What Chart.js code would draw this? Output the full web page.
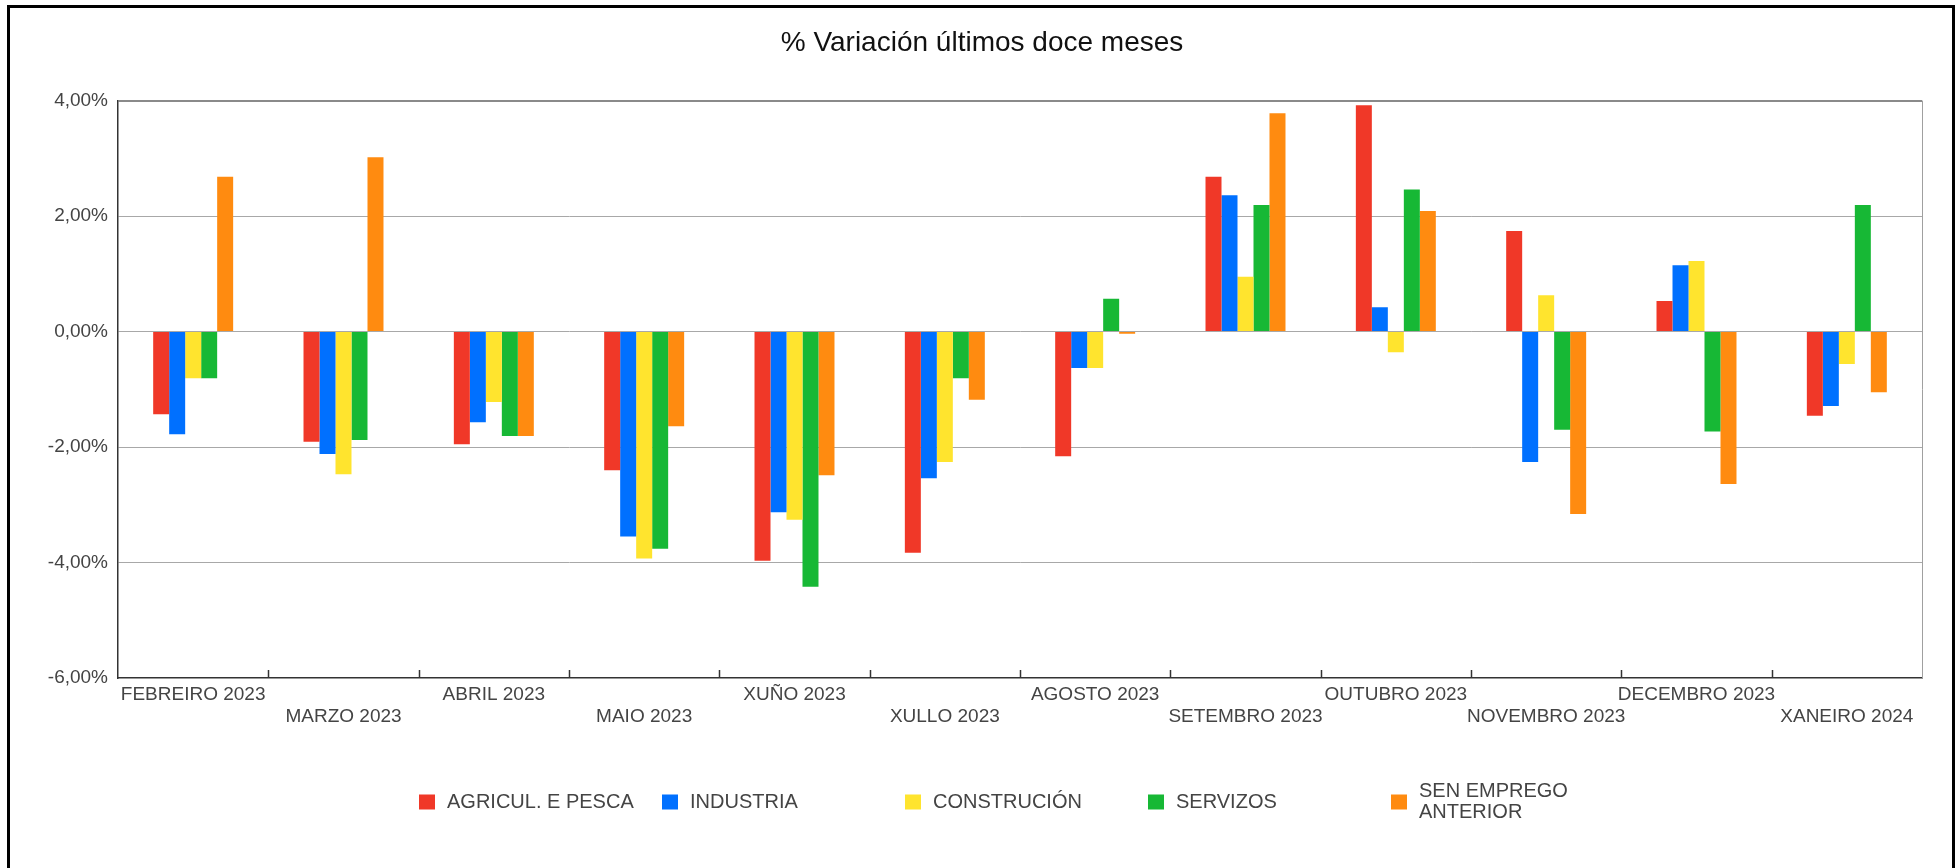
<!DOCTYPE html>
<html>
<head>
<meta charset="utf-8">
<script src="https://cdn.jsdelivr.net/npm/chart.js@4.4.1/dist/chart.umd.min.js"></script>
<style>
  html, body { margin: 0; padding: 0; background: #fff; overflow: hidden; }
  #wrap { position: relative; width: 1958px; height: 868px; }
  canvas { display: block; }
</style>
</head>
<body>
<div id="wrap"><canvas id="c" width="1958" height="868"></canvas></div>
<script>
const categories = ['FEBREIRO 2023','MARZO 2023','ABRIL 2023','MAIO 2023','XUÑO 2023','XULLO 2023','AGOSTO 2023','SETEMBRO 2023','OUTUBRO 2023','NOVEMBRO 2023','DECEMBRO 2023','XANEIRO 2024'];
const agriculEPesca = [-1.43,-1.91,-1.95,-2.40,-3.97,-3.83,-2.16,2.68,3.92,1.74,0.53,-1.46];
const industria     = [-1.78,-2.12,-1.57,-3.55,-3.13,-2.54,-0.63,2.36,0.42,-2.26,1.15,-1.29];
const construcion   = [-0.81,-2.47,-1.22,-3.93,-3.26,-2.26,-0.63,0.95,-0.36,0.63,1.22,-0.56];
const servizos      = [-0.81,-1.88,-1.81,-3.76,-4.42,-0.81,0.57,2.19,2.46,-1.70,-1.73,2.19];
const senEmprego    = [2.68,3.02,-1.81,-1.64,-2.49,-1.18,-0.04,3.78,2.09,-3.16,-2.64,-1.05];
const seriesNames   = ['AGRICUL. E PESCA','INDUSTRIA','CONSTRUCIÓN','SERVIZOS','SEN EMPREGO ANTERIOR'];
const legendLines   = [['AGRICUL. E PESCA'],['INDUSTRIA'],['CONSTRUCIÓN'],['SERVIZOS'],['SEN EMPREGO','ANTERIOR']];
const seriesColors  = ['#F03828','#0070FF','#FFE42E','#17B835','#FF8B10'];
const yTickValues   = [-6,-4,-2,0,2,4];
const titleText     = '% Variación últimos doce meses';

const FONT = "'Liberation Sans', Arial, sans-serif";
const TEXT = '#444444';

const framePlugin = {
  id: 'frame',
  beforeDraw(chart) {
    const ctx = chart.ctx;
    ctx.save();
    ctx.fillStyle = '#fff';
    ctx.fillRect(0, 0, chart.width, chart.height);
    ctx.strokeStyle = '#000';
    ctx.lineWidth = 3;
    ctx.strokeRect(8.5, 6.5, chart.width - 13, chart.height + 40);
    ctx.restore();
  },
  afterDatasetsDraw(chart) {
    const ctx = chart.ctx;
    const xs = chart.scales.x;
    const a = chart.chartArea;
    ctx.save();
    ctx.strokeStyle = '#a0a0a0';
    ctx.lineWidth = 1;
    ctx.beginPath();
    ctx.moveTo(Math.round(a.right) + 0.5, a.top);
    ctx.lineTo(Math.round(a.right) + 0.5, a.bottom);
    ctx.stroke();
    ctx.strokeStyle = '#333';
    ctx.lineWidth = 1.5;
    for (let i = 1; i < categories.length; i++) {
      const x = (xs.getPixelForValue(i - 1) + xs.getPixelForValue(i)) / 2;
      ctx.beginPath();
      ctx.moveTo(Math.round(x) + 0.5, a.bottom);
      ctx.lineTo(Math.round(x) + 0.5, a.bottom - 8);
      ctx.stroke();
    }
    ctx.restore();
  },
  afterDraw(chart) {
    const ctx = chart.ctx;
    const a = chart.chartArea;
    const step = 243;
    const startX = chart.width / 2 - 560;
    const cy = a.bottom + 124;
    ctx.save();
    ctx.font = '20px ' + FONT;
    ctx.textBaseline = 'middle';
    ctx.textAlign = 'left';
    chart.data.datasets.forEach((ds, i) => {
      const bx = startX + i * step;
      ctx.fillStyle = ds.backgroundColor;
      ctx.fillRect(bx, cy - 7.5, 16, 15);
      ctx.fillStyle = TEXT;
      const lines = legendLines[i];
      const lh = 21;
      const y0 = cy - (lines.length - 1) * lh / 2;
      lines.forEach((t, k) => ctx.fillText(t, bx + 28, y0 + k * lh));
    });
    ctx.restore();
  }
};

const values = [agriculEPesca, industria, construcion, servizos, senEmprego];

new Chart(document.getElementById('c'), {
  type: 'bar',
  data: {
    labels: categories,
    datasets: values.map((v, i) => ({
      label: seriesNames[i],
      data: v,
      backgroundColor: seriesColors[i],
      borderWidth: 0,
      categoryPercentage: 0.532,
      barPercentage: 1.0
    }))
  },
  options: {
    responsive: false,
    animation: false,
    devicePixelRatio: 1,
    layout: { padding: { left: 42, right: 36, top: 0, bottom: 0 } },
    plugins: {
      legend: { display: false },
      tooltip: { enabled: false },
      title: {
        display: true,
        text: titleText,
        color: '#111',
        font: { family: FONT, size: 28, weight: 'normal', lineHeight: 1.2 },
        padding: { top: 26, bottom: 41 }
      }
    },
    scales: {
      x: {
        grid: { display: false, drawTicks: false },
        border: { display: true, color: '#333', width: 1.5 },
        ticks: {
          autoSkip: false,
          maxRotation: 0,
          minRotation: 0,
          padding: 5,
          color: TEXT,
          font: { family: FONT, size: 19, lineHeight: 1.2 },
          callback: function (v, i) {
            const l = categories[i];
            return i % 2 === 1 ? ['', l] : l;
          }
        },
        afterFit(s) { s.height = 868 - 678; }
      },
      y: {
        min: yTickValues[0],
        max: yTickValues[yTickValues.length - 1],
        afterBuildTicks(s) { s.ticks = yTickValues.map(v => ({ value: v })); },
        grid: {
          drawTicks: false,
          color: (c) => c.tick && c.tick.value === 4 ? '#8a8a8a' : (c.tick && c.tick.value === -6 ? 'rgba(0,0,0,0)' : '#a8a8a8'),
          lineWidth: (c) => c.tick && c.tick.value === 4 ? 2 : 1
        },
        border: { display: true, color: '#333', width: 1.5 },
        ticks: {
          padding: 10,
          color: TEXT,
          font: { family: FONT, size: 19 },
          callback: (v) => v.toFixed(2).replace('.', ',') + '%'
        },
        afterFit(s) { s.width = 118 - 42; }
      }
    }
  },
  plugins: [framePlugin]
});
</script>
</body>
</html>
